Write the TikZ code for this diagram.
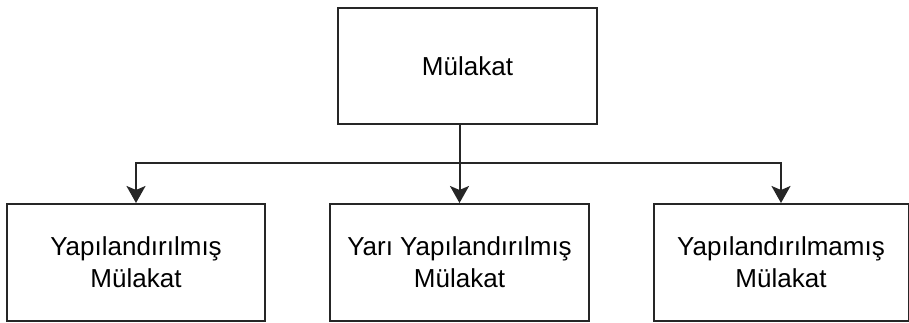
\documentclass[tikz,border=0pt]{standalone}
\usepackage{fontspec}
\setmainfont{Liberation Sans}
\usetikzlibrary{arrows.meta}
\begin{document}
\begin{tikzpicture}[x=1pt,y=-1pt,
  box/.style={draw=black!85, line width=2pt, fill=white, inner sep=0pt, align=center,
    font=\fontsize{26}{32}\selectfont},
  link/.style={draw=black!85, line width=2pt, -{Stealth[length=17pt,width=19pt,inset=4pt]}},
  wire/.style={draw=black!85, line width=2pt}]
  \useasboundingbox (0,0) rectangle (909,323);
  % top category
  \node[box, minimum width=259pt, minimum height=116pt] (top) at (467.5,66) {Mülakat};
  % three interview types
  \node[box, minimum width=258pt, minimum height=117pt] (left) at (136,262.5)
    {Yapılandırılmış\\Mülakat};
  \node[box, minimum width=259pt, minimum height=117pt] (mid) at (459.5,262.5)
    {Yarı Yapılandırılmış\\Mülakat};
  \node[box, minimum width=255pt, minimum height=117pt] (right) at (781,262.5)
    {Yapılandırılmamış\\Mülakat};
  % branching connectors
  \coordinate (bus) at (459.5,163);
  \draw[link] (mid.north |- top.south) -- (mid.north);
  \draw[link] (bus) -| (left.north);
  \draw[link] (bus) -| (right.north);
\end{tikzpicture}
\end{document}
